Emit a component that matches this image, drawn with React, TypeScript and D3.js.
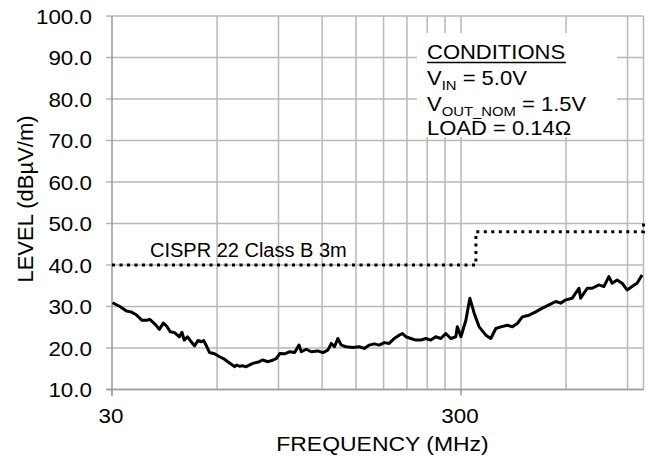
import React from "react";
import * as d3 from "d3";

const Y_TICKS = [10, 20, 30, 40, 50, 60, 70, 80, 90, 100];
const X_TICKS = [30, 300];
const X_TICK_LABELS = ["30", "300"];
const X_GRID = [60, 90, 120, 150, 180, 210, 240, 270, 300, 600, 900, 1000];

const EMI_FREQ = [
  30.1, 31.6, 33.0, 34.0, 35.2, 36.5, 37.7, 38.5, 39.9, 41.0, 42.1, 43.0, 44.1, 45.3, 46.8, 47.6, 48.3, 49.4,
  50.6, 51.7, 52.9, 54.1, 54.9, 56.1, 57.1, 59.0, 61.0, 63.0, 64.4, 65.9, 67.3, 68.3, 69.5, 71.1, 72.7, 76.0,
  79.3, 81.0, 84.0, 86.9, 88.8, 90.8, 93.8, 96.9, 100.1, 103.0, 104.6, 108.1, 111.7, 116.6, 120.6, 124.6,
  127.5, 130.2, 133.1, 136.1, 140.6, 146.8, 153.4, 158.5, 163.8, 169.3, 174.9, 180.8, 186.8, 193.1, 199.5,
  203.9, 208.5, 215.5, 222.7, 230.1, 237.8, 245.8, 254.0, 262.5, 271.3, 280.4, 289.8, 292.8, 299.8, 309.8,
  318.0, 327.2, 338.1, 353.4, 365.2, 377.4, 390.0, 407.4, 420.9, 435.0, 449.5, 470.0, 491.2, 513.1, 536.2,
  560.4, 579.1, 598.5, 625.1, 653.2, 660.6, 690.0, 713.1, 745.2, 769.9, 795.6, 813.1, 840.3, 868.4, 897.4,
  927.4, 958.4, 990.4,
];
const EMI_LEVEL = [
  30.9, 30.0, 28.9, 28.7, 28.0, 26.7, 26.7, 26.9, 25.7, 24.5, 26.0, 25.3, 23.9, 23.7, 22.7, 23.8, 21.9, 22.7,
  21.5, 20.5, 21.8, 21.5, 21.8, 20.3, 18.9, 18.6, 17.9, 17.3, 16.7, 16.1, 15.5, 15.9, 15.6, 15.7, 15.5, 16.3,
  16.7, 17.1, 16.7, 17.1, 17.5, 18.7, 18.6, 19.1, 18.9, 20.7, 19.1, 19.7, 19.1, 19.3, 18.9, 19.5,
  21.1, 20.3, 22.3, 20.7, 20.3, 20.1, 20.3, 19.9, 20.7, 21.0, 20.7, 21.3, 21.1, 22.3, 23.1,
  23.5, 22.7, 22.3, 21.9, 21.9, 22.3, 21.9, 22.7, 22.3, 23.5, 22.3, 22.7, 25.1, 22.7, 26.7,
  32.0, 28.4, 25.1, 23.1, 22.3, 24.7, 25.1, 25.5, 25.1, 25.9, 27.5, 27.9, 28.7, 29.6, 30.4,
  31.2, 30.8, 31.6, 32.0, 34.4, 32.0, 34.4, 34.4, 35.2, 34.8, 37.2, 35.6, 36.4, 35.6, 34.0,
  34.8, 35.6, 37.6,
];

const LIMIT_FREQ = [30, 331, 331, 1000, 1000];
const LIMIT_LEVEL = [40, 40, 48, 48, 50];

const FONT = "'Liberation Sans', Arial, sans-serif";

function T(props: {
  x: number;
  y: number;
  sx?: number;
  size: number;
  anchor?: "start" | "middle" | "end";
  children: React.ReactNode;
}) {
  const { x, y, sx = 1, size, anchor = "start", children } = props;
  return (
    <text transform={`translate(${x},${y}) scale(${sx},1)`} fontSize={size} textAnchor={anchor} fill="#000">
      {children}
    </text>
  );
}

export default function App() {
  const W = 649;
  const H = 456;
  const x = d3.scaleLog().domain([30, 1000]).range([112, 643.5]);
  const y = d3.scaleLinear().domain([10, 100]).range([389.5, 16]);

  const emi = EMI_FREQ.map((f, i) => [f, EMI_LEVEL[i]] as [number, number]);
  const lim = LIMIT_FREQ.map((f, i) => [f, LIMIT_LEVEL[i]] as [number, number]);
  const line = d3
    .line<[number, number]>()
    .x((d) => x(d[0]))
    .y((d) => y(d[1]));

  const gridColor = "#b8b8b8";
  const axisColor = "#9a9a9a";
  const x0 = x(30);
  const x1 = x(1000);
  const yb = y(10);
  const yt = y(100);

  return (
    <svg
      width={W}
      height={H}
      style={{ position: "absolute", left: 0, top: 0, background: "#fff" }}
      fontFamily={FONT}
    >
      <rect x={0} y={0} width={W} height={H} fill="#fff" />
      {Y_TICKS.map((t) => (
        <line key={"hy" + t} x1={x0 - 6} x2={x1} y1={y(t)} y2={y(t)} stroke={gridColor} strokeWidth={1.5} />
      ))}
      {X_GRID.map((f) => (
        <line key={"vx" + f} x1={x(f)} x2={x(f)} y1={yt} y2={yb} stroke={gridColor} strokeWidth={1.5} />
      ))}
      <line x1={x0} x2={x0} y1={yt} y2={yb + 6} stroke={axisColor} strokeWidth={1.5} />
      <line x1={x0 - 6} x2={x1} y1={yb} y2={yb} stroke={axisColor} strokeWidth={1.5} />
      {X_TICKS.map((f) => (
        <line key={"xt" + f} x1={x(f)} x2={x(f)} y1={yb} y2={yb + 6} stroke={axisColor} strokeWidth={1.5} />
      ))}

      {/* conditions box */}
      <rect x={417} y={33} width={200} height={104} fill="#fff" />
      <T x={427} y={59} size={20} sx={1.1}>CONDITIONS</T>
      <line x1={427} x2={566} y1={62.5} y2={62.5} stroke="#000" strokeWidth={1.5} />
      <T x={427} y={85} size={20} sx={1.1}>
        <tspan>V</tspan>
        <tspan fontSize={13.5} dy={5}>IN</tspan>
        <tspan dy={-5}> = 5.0V</tspan>
      </T>
      <T x={427} y={110.5} size={20} sx={1.1}>
        <tspan>V</tspan>
        <tspan fontSize={13.5} dy={5}>OUT_NOM</tspan>
        <tspan dy={-5}> = 1.5V</tspan>
      </T>
      <T x={427} y={135} size={20} sx={1.1}>LOAD = 0.14Ω</T>

      {/* limit line */}
      <path d={line(lim) || ""} fill="none" stroke="#000" strokeWidth={3} strokeDasharray="3,4.5" />
      <T x={150} y={256.7} size={20}>CISPR 22 Class B 3m</T>

      {/* emission */}
      <path d={line(emi) || ""} fill="none" stroke="#000" strokeWidth={3} strokeLinejoin="round" />

      {Y_TICKS.map((t) => (
        <T key={"yl" + t} x={92} y={y(t) + 7.5} size={20} sx={1.12} anchor="end">
          {t.toFixed(1)}
        </T>
      ))}
      {X_TICKS.map((f, i) => (
        <T key={"xl" + f} x={x(f) - 1} y={423} size={20} sx={1.12} anchor="middle">
          {X_TICK_LABELS[i]}
        </T>
      ))}
      <T x={382.5} y={451} size={20.5} sx={1.12} anchor="middle">FREQUENCY (MHz)</T>
      <text transform={`translate(33,199) rotate(-90)`} textAnchor="middle" fontSize={22} fill="#000">
        LEVEL  (dBµV/m)
      </text>
    </svg>
  );
}
